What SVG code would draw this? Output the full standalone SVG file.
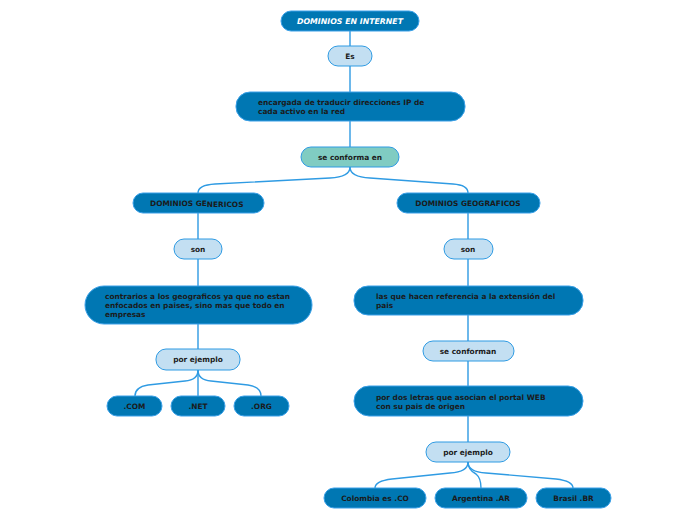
<svg xmlns="http://www.w3.org/2000/svg" width="696" height="520" viewBox="0 0 696 520">
<style>
.d{fill:#0077b3;stroke:#3aa0e8;stroke-width:1}
.l{fill:#c3dff2;stroke:#2f9be3;stroke-width:1}
.t{fill:#80ccc2;stroke:#2f9be3;stroke-width:1}
text{font-family:"DejaVu Sans",Verdana,sans-serif;font-weight:bold;font-size:7.4px;fill:#1b1b1b}
.c{text-anchor:middle}
.w{fill:#ffffff;font-style:italic;font-size:7.8px}
.e{fill:none;stroke:#2f9be3;stroke-width:1.4}
</style>
<rect width="696" height="520" fill="#ffffff"/>
<g id="connectors">
<path class="e" d="M350,31 V46 M350,66 V92 M350,121 V147"/>
<path class="e" d="M350,167 Q350,177 330,178 L215,184 Q198,185 198,193"/>
<path class="e" d="M350,167 Q350,177 370,178 L453,184 Q468,185 468,193"/>
<path class="e" d="M198,213 V239 M198,259 V286 M198,324 V349"/>
<path class="e" d="M468,213 V239 M468,259 V286 M468,315 V341 M468,361 V386 M468,416 V442"/>
<path class="e" d="M198,370 Q198,380 185,381 L148,385 Q135,387 135,396"/>
<path class="e" d="M198,370 V396"/>
<path class="e" d="M198,370 Q198,380 211,381 L248,385 Q261,387 261,396"/>
<path class="e" d="M468,462 Q468,472 450,473 L392,479 Q375,481 375,488"/>
<path class="e" d="M468,462 Q468,470 476,474 Q481,478 481,488"/>
<path class="e" d="M468,462 Q468,472 486,473 L556,479 Q573,481 573,488"/>
</g>
<g id="n1"><rect class="d" x="281" y="11" width="138" height="20" rx="10"/><text class="c w" x="350" y="23.8">DOMINIOS EN INTERNET</text></g>
<g id="n2"><rect class="l" x="328" y="46" width="44" height="20" rx="10"/><text class="c" x="350" y="58.8">Es</text></g>
<g id="n3"><rect class="d" x="236" y="92" width="229" height="29" rx="14"/><text x="258" y="104.8">encargada de traducir direcciones IP de</text><text x="258" y="113.8">cada activo en la red</text></g>
<g id="n4"><rect class="t" x="301" y="147" width="98" height="20" rx="10"/><text class="c" x="350" y="159.8">se conforma en</text></g>
<g id="n5"><rect class="d" x="133" y="193" width="131" height="20" rx="10"/><text x="150" y="205.8">DOMINIOS GE<tspan dy="1">NERICOS</tspan></text></g>
<g id="n6"><rect class="d" x="397" y="193" width="143" height="20" rx="10"/><text class="c" x="468" y="206.3">DOMINIOS GEOGRAFICOS</text></g>
<g id="n7"><rect class="l" x="174" y="239" width="48" height="20" rx="10"/><text class="c" x="198" y="251.8">son</text></g>
<g id="n8"><rect class="l" x="444" y="239" width="49" height="20" rx="10"/><text class="c" x="468" y="251.8">son</text></g>
<g id="n9"><rect class="d" x="85" y="286" width="227" height="38" rx="19"/><text x="105" y="299.3">contrarios a los geograficos ya que no estan</text><text x="105" y="308.3">enfocados en paises, sino mas que todo en</text><text x="105" y="317.3">empresas</text></g>
<g id="n10"><rect class="d" x="354" y="286" width="229" height="29" rx="14"/><text x="376" y="299.3">las que hacen referencia a la extensión del</text><text x="376" y="308.3">pais</text></g>
<g id="n11"><rect class="l" x="156" y="349" width="84" height="21" rx="10"/><text class="c" x="198" y="362.3">por ejemplo</text></g>
<g id="n12"><rect class="l" x="423" y="341" width="91" height="20" rx="10"/><text class="c" x="468" y="353.8">se conforman</text></g>
<g id="n13"><rect class="d" x="107" y="396" width="55" height="20" rx="10"/><text class="c" x="134.5" y="409.3">.COM</text></g>
<g id="n14"><rect class="d" x="171" y="396" width="54" height="20" rx="10"/><text class="c" x="198" y="409.3">.NET</text></g>
<g id="n15"><rect class="d" x="234" y="396" width="55" height="20" rx="10"/><text class="c" x="261.5" y="409.3">.ORG</text></g>
<g id="n16"><rect class="d" x="354" y="386" width="229" height="30" rx="15"/><text x="376" y="399.8">por dos letras que asocian el portal WEB</text><text x="376" y="408.8">con su pais de origen</text></g>
<g id="n17"><rect class="l" x="426" y="442" width="84" height="20" rx="10"/><text class="c" x="468" y="454.8">por ejemplo</text></g>
<g id="n18"><rect class="d" x="324" y="488" width="102" height="20" rx="10"/><text class="c" x="375" y="500.8">Colombia es .CO</text></g>
<g id="n19"><rect class="d" x="435" y="488" width="92" height="20" rx="10"/><text class="c" x="481" y="500.8">Argentina .AR</text></g>
<g id="n20"><rect class="d" x="536" y="488" width="75" height="20" rx="10"/><text class="c" x="573.5" y="500.8">Brasil .BR</text></g>
</svg>
